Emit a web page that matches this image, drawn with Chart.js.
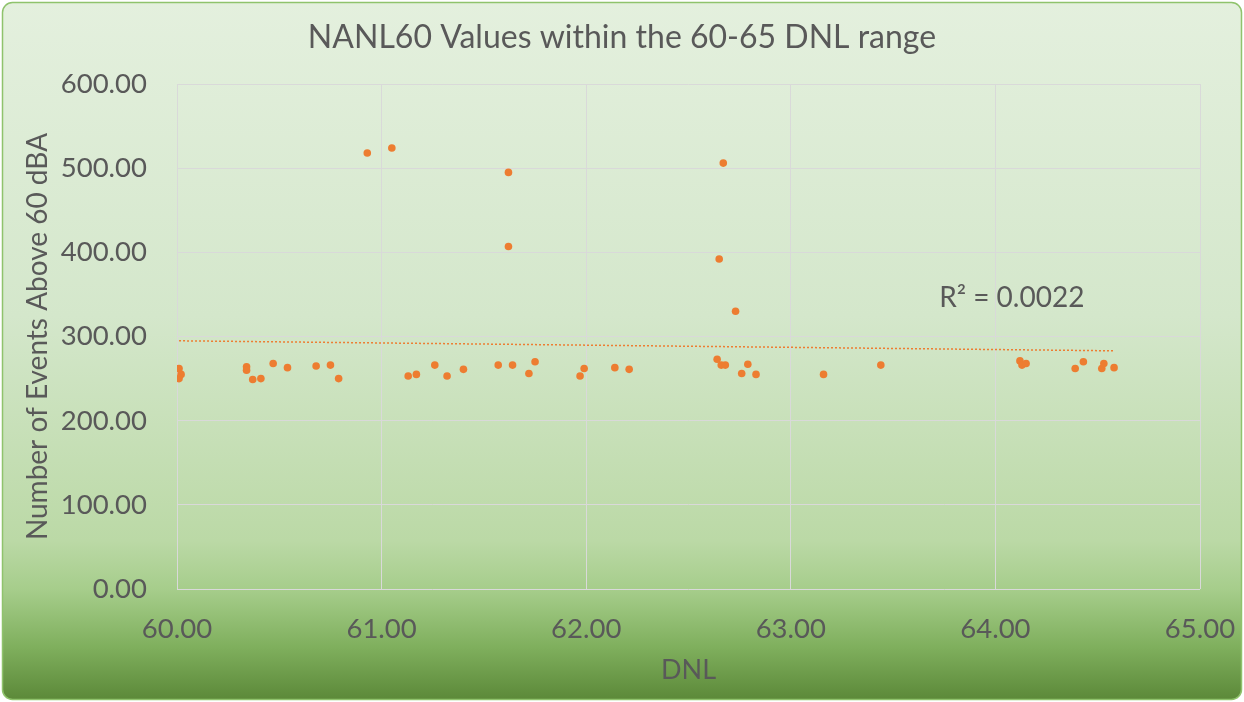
<!DOCTYPE html>
<html>
<head>
<meta charset="utf-8">
<title>NANL60 Values within the 60-65 DNL range</title>
<script src="https://cdn.jsdelivr.net/npm/chart.js@4.4.0/dist/chart.umd.min.js"></script>
<style>
    html, body { margin: 0; padding: 0; background: #ffffff; }
    #wrap { width: 1244px; height: 702px; }
</style>
</head>
<body>
<div id="wrap"><canvas id="nanlChart" width="1244" height="702"></canvas></div>
<script>
// DNL value of each grid point (x)
const dnlValues = [
    60.01, 60.02, 60.01, 60.34, 60.34, 60.37, 60.41, 60.47, 60.54, 60.68,
    60.75, 60.79, 60.93, 61.05, 61.13, 61.17, 61.26, 61.32, 61.40, 61.57,
    61.62, 61.62, 61.64, 61.72, 61.75, 61.97, 61.99, 62.14, 62.21, 62.64,
    62.65, 62.66, 62.67, 62.68, 62.73, 62.76, 62.79, 62.83, 63.16, 63.44,
    64.12, 64.13, 64.15, 64.39, 64.43, 64.52, 64.53, 64.58
];

// Number of events above 60 dBA (y)
const eventCounts = [
    262, 255, 250, 264, 260, 249, 250, 268, 263, 265,
    266, 250, 518, 524, 253, 255, 266, 253, 261, 266,
    495, 407, 266, 256, 270, 253, 262, 263, 261, 273,
    392, 266, 506, 266, 330, 256, 267, 255, 255, 266,
    271, 266, 268, 262, 270, 262, 268, 263
];

// Linear trendline ends
const trendX = [60.01, 64.58];
const trendY = [294.9, 283.0];
const rSquaredLabel = 'R\u00B2 = 0.0022';

// Axis ranges
const xTicks = [60, 61, 62, 63, 64, 65];
const yTicks = [0, 100, 200, 300, 400, 500, 600];

const points = dnlValues.map((x, i) => ({ x: x, y: eventCounts[i] }));
const trendPoints = trendX.map((x, i) => ({ x: x, y: trendY[i] }));

const FONT = 'Lato, "Open Sans", sans-serif';
const TEXT = '#595959';

// Excel-ish green gradient backdrop with rounded border
const backdrop = {
    id: 'backdrop',
    beforeDraw(chart) {
        const { ctx, width, height } = chart;
        ctx.save();
        ctx.fillStyle = '#ffffff';
        ctx.fillRect(0, 0, width, height);
        const g = ctx.createLinearGradient(0, 0, 0, height);
        g.addColorStop(0, '#e4f0de');
        g.addColorStop(0.45, '#d4e7cb');
        g.addColorStop(0.77, '#bbd9a6');
        g.addColorStop(0.84, '#a6cd8b');
        g.addColorStop(0.92, '#80b05e');
        g.addColorStop(1, '#5a8737');
        ctx.beginPath();
        ctx.roundRect(2.5, 2.5, width - 5, height - 5, 10);
        ctx.fillStyle = g;
        ctx.fill();
        ctx.lineWidth = 1.5;
        ctx.strokeStyle = '#8fc36c';
        ctx.stroke();
        ctx.restore();
    }
};

// R² label next to the trendline
const rSquared = {
    id: 'rSquared',
    afterDatasetsDraw(chart) {
        const { ctx, scales } = chart;
        ctx.save();
        ctx.font = '28px ' + FONT;
        ctx.fillStyle = TEXT;
        ctx.textAlign = 'center';
        ctx.textBaseline = 'middle';
        ctx.fillText(rSquaredLabel, scales.x.getPixelForValue(64.08), scales.y.getPixelForValue(346));
        ctx.restore();
    }
};

const renderChart = () => {
    const ctx = document.getElementById('nanlChart').getContext('2d');

    new Chart(ctx, {
        type: 'scatter',
        data: {
            datasets: [
                {
                    label: 'NANL60',
                    data: points,
                    backgroundColor: '#ed7d31',
                    borderWidth: 0,
                    pointRadius: 3.8,
                },
                {
                    type: 'line',
                    label: 'Linear trend',
                    data: trendPoints,
                    borderColor: '#ed7d31',
                    borderWidth: 1.5,
                    borderDash: [2, 2],
                    pointRadius: 0,
                    fill: false,
                },
            ],
        },
        options: {
            responsive: false,
            animation: false,
            layout: { padding: 0 },
            plugins: {
                legend: { display: false },
                tooltip: { enabled: false },
                title: {
                    display: true,
                    text: 'NANL60 Values within the 60-65 DNL range',
                    color: TEXT,
                    font: { family: FONT, size: 32, weight: 'normal' },
                    padding: { top: 18.8, bottom: 26.8 },
                },
            },
            scales: {
                x: {
                    type: 'linear',
                    min: xTicks[0],
                    max: xTicks[xTicks.length - 1],
                    afterBuildTicks: (scale) => { scale.ticks = xTicks.map(v => ({ value: v })); },
                    afterFit: (scale) => {
                        scale.height = 113;
                        scale.paddingLeft = 0;
                        scale.paddingRight = 44;
                    },
                    border: { display: false },
                    grid: { color: '#d9d9d9', lineWidth: 1, drawTicks: false },
                    ticks: {
                        color: TEXT,
                        padding: 24,
                        maxRotation: 0,
                        font: { family: FONT, size: 27.5 },
                        callback: v => Number(v).toFixed(2),
                    },
                    title: {
                        display: true,
                        text: 'DNL',
                        color: TEXT,
                        font: { family: FONT, size: 27 },
                        padding: { top: 0, bottom: 15.8 },
                    },
                },
                y: {
                    type: 'linear',
                    min: yTicks[0],
                    max: yTicks[yTicks.length - 1],
                    afterBuildTicks: (scale) => { scale.ticks = yTicks.map(v => ({ value: v })); },
                    afterFit: (scale) => {
                        scale.width = 177;
                        scale.paddingTop = 0;
                        scale.paddingBottom = 0;
                    },
                    border: { display: false },
                    grid: { color: '#d9d9d9', lineWidth: 1, drawTicks: false },
                    ticks: {
                        color: TEXT,
                        padding: 30,
                        font: { family: FONT, size: 27.5 },
                        callback: v => Number(v).toFixed(2),
                    },
                    title: {
                        display: true,
                        text: 'Number of Events Above 60 dBA',
                        color: TEXT,
                        font: { family: FONT, size: 28 },
                        padding: { top: 21.2, bottom: 0 },
                    },
                },
            },
        },
        plugins: [backdrop, rSquared],
    });
};

document.addEventListener('DOMContentLoaded', () => {
    renderChart();
});
</script>
</body>
</html>
